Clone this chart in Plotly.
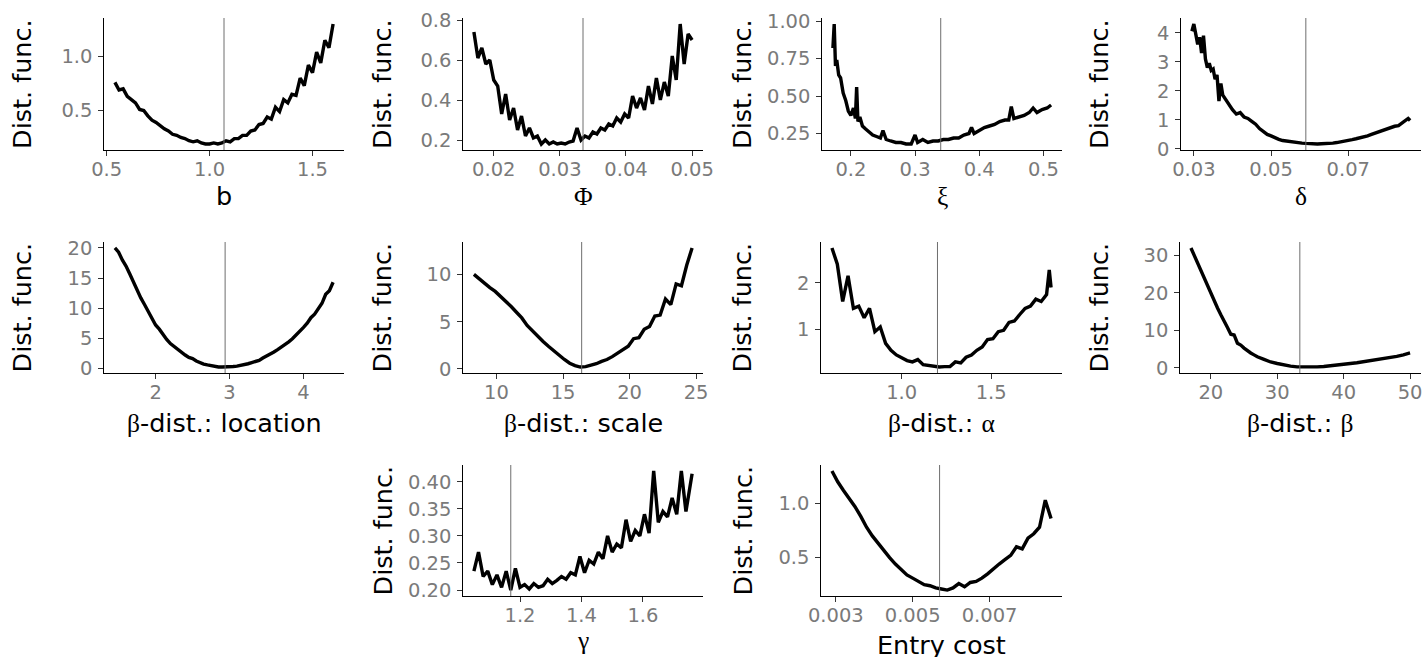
import plotly.graph_objects as go

W, H = 1425, 657

# ---- data (distance function vs. parameter value) ----
b_x = [0.54, 0.56, 0.58, 0.60, 0.62, 0.64, 0.66, 0.68, 0.70, 0.72, 0.74, 0.76, 0.78, 0.80,
       0.82, 0.84, 0.86, 0.88, 0.90, 0.92, 0.94, 0.96, 0.98, 1.00, 1.02, 1.04, 1.06, 1.08,
       1.10, 1.12, 1.14, 1.16, 1.18, 1.20, 1.22, 1.24, 1.26, 1.28, 1.30, 1.32, 1.34, 1.36,
       1.38, 1.40, 1.42, 1.44, 1.46, 1.48, 1.50, 1.52, 1.54, 1.56, 1.58, 1.60]
b_y = [0.76, 0.69, 0.70, 0.63, 0.60, 0.57, 0.51, 0.50, 0.45, 0.41,
       0.39, 0.36, 0.33, 0.31, 0.28, 0.27, 0.25, 0.24, 0.22, 0.21,
       0.22, 0.20, 0.19, 0.19, 0.20, 0.19, 0.20, 0.22, 0.21, 0.24,
       0.24, 0.27, 0.27, 0.31, 0.32, 0.37, 0.38, 0.44, 0.42, 0.53,
       0.49, 0.60, 0.57, 0.65, 0.64, 0.80, 0.73, 0.92, 0.85, 1.04,
       0.94, 1.15, 1.08, 1.30]
b_opt = 1.07

phi_x = [0.0170, 0.0176, 0.0182, 0.0188, 0.0194, 0.0200, 0.0206, 0.0212, 0.0218, 0.0224,
         0.0230, 0.0236, 0.0242, 0.0248, 0.0254, 0.0260, 0.0266, 0.0272, 0.0278, 0.0284,
         0.0290, 0.0296, 0.0302, 0.0308, 0.0314, 0.0320, 0.0326, 0.0332, 0.0338, 0.0344,
         0.0350, 0.0356, 0.0362, 0.0368, 0.0374, 0.0380, 0.0386, 0.0392, 0.0398, 0.0404,
         0.0410, 0.0416, 0.0422, 0.0428, 0.0434, 0.0440, 0.0446, 0.0452, 0.0458, 0.0464,
         0.0470, 0.0476, 0.0482, 0.0488, 0.0494, 0.0500]
phi_y = [0.74, 0.61, 0.66, 0.58, 0.60, 0.50, 0.47, 0.33, 0.43, 0.30,
         0.36, 0.25, 0.32, 0.22, 0.26, 0.21, 0.22, 0.18, 0.20, 0.18,
         0.19, 0.18, 0.185, 0.18, 0.19, 0.195, 0.26, 0.20, 0.22, 0.21,
         0.24, 0.23, 0.26, 0.25, 0.28, 0.27, 0.31, 0.29, 0.33, 0.31,
         0.42, 0.36, 0.41, 0.35, 0.47, 0.38, 0.51, 0.40, 0.49, 0.42,
         0.62, 0.50, 0.78, 0.58, 0.73, 0.70]
phi_opt = 0.0335

xi_x = [0.172, 0.174, 0.176, 0.178, 0.181, 0.184, 0.188, 0.192, 0.196, 0.200,
        0.204, 0.207, 0.209, 0.211, 0.214, 0.218, 0.223, 0.228, 0.234, 0.240,
        0.246, 0.250, 0.255, 0.262, 0.270, 0.278, 0.286, 0.294, 0.300, 0.304,
        0.312, 0.320, 0.328, 0.336, 0.344, 0.352, 0.360, 0.368, 0.376, 0.384,
        0.388, 0.392, 0.400, 0.408, 0.416, 0.424, 0.432, 0.440, 0.446, 0.450,
        0.454, 0.462, 0.470, 0.478, 0.484, 0.490, 0.498, 0.506, 0.512]
xi_y = [0.82, 0.98, 0.70, 0.74, 0.64, 0.62, 0.52, 0.47, 0.40, 0.37,
        0.42, 0.35, 0.56, 0.33, 0.36, 0.30, 0.28, 0.26, 0.24, 0.23,
        0.22, 0.27, 0.21, 0.20, 0.19, 0.19, 0.18, 0.18, 0.24, 0.19,
        0.21, 0.19, 0.20, 0.20, 0.21, 0.21, 0.22, 0.22, 0.24, 0.25,
        0.29, 0.25, 0.27, 0.29, 0.30, 0.31, 0.33, 0.34, 0.34, 0.43,
        0.35, 0.36, 0.37, 0.39, 0.42, 0.39, 0.41, 0.42, 0.44]
xi_opt = 0.34

delta_x = [0.0295, 0.0300, 0.0305, 0.0310, 0.0315, 0.0320, 0.0325, 0.0330, 0.0335, 0.0340,
           0.0345, 0.0350, 0.0355, 0.0360, 0.0365, 0.0370, 0.0375, 0.0380,
           0.039, 0.040, 0.041, 0.042, 0.043, 0.044, 0.045, 0.046, 0.047, 0.048,
           0.049, 0.050, 0.051, 0.052, 0.053, 0.054, 0.055, 0.056, 0.057, 0.058,
           0.059, 0.060, 0.061, 0.062, 0.063, 0.064, 0.065, 0.066, 0.067, 0.068,
           0.069, 0.070, 0.071, 0.072, 0.073, 0.074, 0.075, 0.076, 0.077, 0.078,
           0.079, 0.080, 0.081, 0.082, 0.083, 0.084, 0.085, 0.0855, 0.0860]
delta_y = [4.05, 4.30, 3.95, 3.60, 3.85, 3.30, 3.90, 3.10, 2.80, 2.95,
           2.70, 2.75, 2.40, 2.55, 1.65, 2.25, 1.85, 1.75,
           1.50, 1.35, 1.20, 1.25, 1.10, 1.05, 0.95, 0.85, 0.70, 0.60,
           0.50, 0.45, 0.38, 0.33, 0.29, 0.27, 0.24, 0.22, 0.21, 0.20,
           0.19, 0.18, 0.18, 0.17, 0.18, 0.18, 0.19, 0.20, 0.22, 0.24,
           0.26, 0.30, 0.32, 0.35, 0.38, 0.42, 0.45, 0.50, 0.55, 0.60,
           0.65, 0.70, 0.74, 0.78, 0.80, 0.90, 0.98, 1.05, 0.98]
delta_opt = 0.059

loc_x = [1.45, 1.50, 1.55, 1.60, 1.65, 1.70, 1.75, 1.80, 1.85, 1.90,
         1.95, 2.00, 2.05, 2.10, 2.15, 2.20, 2.25, 2.30, 2.35, 2.40,
         2.45, 2.50, 2.55, 2.60, 2.65, 2.70, 2.75, 2.80, 2.85, 2.90,
         2.95, 3.00, 3.05, 3.10, 3.15, 3.20, 3.25, 3.30, 3.35, 3.40,
         3.45, 3.50, 3.55, 3.60, 3.65, 3.70, 3.75, 3.80, 3.85, 3.90,
         3.95, 4.00, 4.05, 4.10, 4.15, 4.20, 4.25, 4.30, 4.35, 4.40]
loc_y = [20.0, 19.3, 18.0, 17.0, 15.7, 14.4, 12.8, 11.7, 10.6, 9.4,
         8.2, 7.2, 6.5, 5.6, 4.8, 4.1, 3.6, 3.1, 2.6, 2.2,
         1.8, 1.6, 1.2, 0.9, 0.7, 0.55, 0.4, 0.3, 0.22, 0.2,
         0.2, 0.22, 0.28, 0.35, 0.45, 0.6, 0.75, 0.95, 1.15, 1.3,
         1.7, 2.0, 2.35, 2.7, 3.1, 3.5, 3.9, 4.4, 4.9, 5.5,
         6.1, 6.8, 7.5, 8.4, 9.0, 9.9, 10.8, 12.3, 12.9, 14.3]
loc_opt = 2.94

scale_x = [8.3, 8.7, 9.1, 9.5, 9.9, 10.3, 10.7, 11.1, 11.5, 11.9,
           12.3, 12.7, 13.1, 13.5, 13.9, 14.3, 14.7, 15.1, 15.5, 15.9,
           16.3, 16.7, 17.1, 17.5, 17.9, 18.3, 18.7, 19.1, 19.5, 19.9,
           20.3, 20.7, 21.1, 21.5, 21.9, 22.3, 22.7, 23.1, 23.5, 23.9,
           24.3, 24.7]
scale_y = [10.0, 9.5, 9.1, 8.6, 8.2, 7.7, 7.1, 6.6, 6.0, 5.4,
           4.6, 4.0, 3.5, 2.9, 2.4, 1.9, 1.4, 1.0, 0.6, 0.35,
           0.2, 0.25, 0.4, 0.55, 0.8, 1.0, 1.3, 1.7, 2.0, 2.4,
           3.2, 3.3, 4.2, 4.5, 5.6, 5.7, 7.4, 6.8, 9.0, 8.8,
           11.0, 12.8]
scale_opt = 16.4

alpha_x = [0.61, 0.64, 0.67, 0.70, 0.73, 0.76, 0.79, 0.82, 0.85, 0.88,
           0.91, 0.94, 0.97, 1.00, 1.03, 1.06, 1.09, 1.12, 1.15, 1.18,
           1.21, 1.24, 1.27, 1.30, 1.33, 1.36, 1.39, 1.42, 1.45, 1.48,
           1.51, 1.54, 1.57, 1.60, 1.63, 1.66, 1.69, 1.72, 1.75, 1.78,
           1.81, 1.825, 1.835]
alpha_y = [2.75, 2.40, 1.60, 2.15, 1.45, 1.50, 1.25, 1.45, 0.95, 1.05,
           0.70, 0.55, 0.45, 0.38, 0.33, 0.30, 0.35, 0.24, 0.22, 0.20,
           0.19, 0.20, 0.20, 0.30, 0.28, 0.40, 0.45, 0.55, 0.62, 0.78,
           0.80, 0.95, 0.98, 1.15, 1.18, 1.32, 1.45, 1.50, 1.65, 1.60,
           1.75, 2.28, 1.90]
alpha_opt = 1.20

beta_x = [17, 17.5, 18, 18.5, 19, 19.5, 20, 20.5, 21, 21.5,
          22, 22.5, 23, 23.5, 24, 24.5, 25, 25.5, 26, 26.5, 27,
          28, 29, 30, 31, 32, 33, 34, 35, 36, 37,
          38, 39, 40, 41, 42, 43, 44, 45, 46, 47,
          48, 49, 50]
beta_y = [32.0, 30.0, 28.0, 26.0, 23.5, 21.5, 19.5, 17.5, 16.0, 14.2,
          12.7, 10.8, 9.0, 8.8, 6.6, 6.1, 5.3, 4.6, 4.0, 3.5, 3.0,
          2.3, 1.6, 1.2, 0.8, 0.5, 0.3, 0.25, 0.25, 0.3, 0.4,
          0.55, 0.75, 0.95, 1.2, 1.4, 1.65, 1.9, 2.15, 2.45, 2.8,
          3.1, 3.5, 4.0]
beta_opt = 33.4

gamma_x = [1.050, 1.065, 1.080, 1.095, 1.110, 1.125, 1.140, 1.155, 1.170, 1.185,
           1.200, 1.215, 1.230, 1.245, 1.260, 1.275, 1.290, 1.305, 1.320, 1.335,
           1.350, 1.365, 1.380, 1.395, 1.410, 1.425, 1.440, 1.455, 1.470, 1.485,
           1.500, 1.515, 1.530, 1.545, 1.560, 1.575, 1.590, 1.605, 1.620, 1.635,
           1.650, 1.665, 1.680, 1.695, 1.710, 1.725, 1.740, 1.755, 1.760]
gamma_y = [0.235, 0.270, 0.225, 0.235, 0.210, 0.228, 0.205, 0.235, 0.200, 0.240,
           0.205, 0.210, 0.202, 0.212, 0.205, 0.208, 0.220, 0.212, 0.218, 0.225,
           0.220, 0.232, 0.228, 0.262, 0.232, 0.255, 0.248, 0.270, 0.258, 0.300,
           0.270, 0.285, 0.278, 0.330, 0.290, 0.310, 0.300, 0.340, 0.305, 0.420,
           0.325, 0.345, 0.335, 0.370, 0.340, 0.420, 0.345, 0.405, 0.415]
gamma_opt = 1.17

entry_x = [0.00290, 0.00305, 0.00320, 0.00335, 0.00350, 0.00365, 0.00380, 0.00395,
           0.00410, 0.00425, 0.00440, 0.00455, 0.00470, 0.00485, 0.00500, 0.00515,
           0.00530, 0.00545, 0.00560, 0.00575, 0.00590, 0.00605, 0.00620, 0.00635,
           0.00650, 0.00665, 0.00680, 0.00695, 0.00710, 0.00725, 0.00740, 0.00755,
           0.00770, 0.00785, 0.00800, 0.00815, 0.00830, 0.00845, 0.00860]
entry_y = [1.30, 1.20, 1.12, 1.05, 0.97, 0.88, 0.78, 0.70, 0.63, 0.57,
           0.50, 0.44, 0.39, 0.34, 0.31, 0.28, 0.25, 0.24, 0.22, 0.21,
           0.20, 0.22, 0.26, 0.23, 0.27, 0.28, 0.31, 0.35, 0.40, 0.44,
           0.48, 0.52, 0.60, 0.58, 0.68, 0.72, 0.78, 1.03, 0.86]
entry_opt = 0.0057

# tick labels
b_xt, b_yt = ["0.5", "1.0", "1.5"], ["0.5", "1.0"]
phi_xt, phi_yt = ["0.02", "0.03", "0.04", "0.05"], ["0.2", "0.4", "0.6", "0.8"]
xi_xt, xi_yt = ["0.2", "0.3", "0.4", "0.5"], ["0.25", "0.50", "0.75", "1.00"]
delta_xt, delta_yt = ["0.03", "0.05", "0.07"], ["0", "1", "2", "3", "4"]
loc_xt, loc_yt = ["2", "3", "4"], ["0", "5", "10", "15", "20"]
scale_xt, scale_yt = ["10", "15", "20", "25"], ["0", "5", "10"]
alpha_xt, alpha_yt = ["1.0", "1.5"], ["1", "2"]
beta_xt, beta_yt = ["20", "30", "40", "50"], ["0", "10", "20", "30"]
gamma_xt, gamma_yt = ["1.2", "1.4", "1.6"], ["0.20", "0.25", "0.30", "0.35", "0.40"]
entry_xt, entry_yt = ["0.003", "0.005", "0.007"], ["0.5", "1.0"]


def g(s):
    # greek letters drawn in a serif face, like the R symbol font
    return f'<span style="font-family:Liberation Serif">{s}</span>'


x_titles = ["b", g("Φ"), g("ξ"), g("δ"),
            g("β") + "-dist.: location", g("β") + "-dist.: scale",
            g("β") + "-dist.: " + g("α"), g("β") + "-dist.: " + g("β"),
            g("γ"), "Entry cost"]

# panel boxes in pixels: left, right, top, bottom ; x of the y-title ; gap to x-title
panels = [
    (b_x, b_y, b_opt, b_xt, b_yt, (104, 344, 18, 150), 22, 46),
    (phi_x, phi_y, phi_opt, phi_xt, phi_yt, (463, 703, 18, 150), 382, 46),
    (xi_x, xi_y, xi_opt, xi_xt, xi_yt, (822, 1062, 18, 150), 742, 46),
    (delta_x, delta_y, delta_opt, delta_xt, delta_yt, (1181, 1421, 18, 150), 1099, 46),
    (loc_x, loc_y, loc_opt, loc_xt, loc_yt, (104, 344, 242, 373), 22, 50),
    (scale_x, scale_y, scale_opt, scale_xt, scale_yt, (463, 703, 242, 373), 382, 50),
    (alpha_x, alpha_y, alpha_opt, alpha_xt, alpha_yt, (821, 1062, 242, 373), 742, 50),
    (beta_x, beta_y, beta_opt, beta_xt, beta_yt, (1180, 1421, 242, 373), 1099, 50),
    (gamma_x, gamma_y, gamma_opt, gamma_xt, gamma_yt, (463, 703, 465, 596), 382, 44),
    (entry_x, entry_y, entry_opt, entry_xt, entry_yt, (821, 1062, 465, 596), 742, 49),
]

FONT = "DejaVu Sans"
TICKFONT = dict(family=FONT, size=19.5, color="#7a7a7a")
TITLEFONT = dict(family=FONT, size=25.5, color="black")


def px(v):
    return v / W


def py(v):
    return 1 - v / H


fig = go.Figure()
annotations = []
shapes = []
axes = {}

for i, (xs, ys, opt, xt, yt, (l, r, t, b), ytx, gap) in enumerate(panels):
    assert len(xs) == len(ys)
    n = "" if i == 0 else str(i + 1)
    fig.add_trace(go.Scatter(x=xs, y=ys, mode="lines", xaxis="x" + n, yaxis="y" + n,
                             line=dict(color="black", width=3.4), showlegend=False))

    xr = [min(xs), max(xs)]
    yr = [min(ys), max(ys)]
    dx = (xr[1] - xr[0]) * 0.05
    dy = (yr[1] - yr[0]) * 0.05
    common = dict(showline=True, linecolor="black", linewidth=1.4, ticks="outside",
                  ticklen=4.5, tickwidth=1.2, tickcolor="#333333", showgrid=False,
                  zeroline=False, tickfont=TICKFONT)
    axes["xaxis" + n] = dict(domain=[px(l), px(r)], range=[xr[0] - dx, xr[1] + dx],
                            anchor="y" + n, tickvals=[float(v) for v in xt], ticktext=xt,
                            ticklabelstandoff=-3, **common)
    axes["yaxis" + n] = dict(domain=[py(b), py(t)], range=[yr[0] - dy, yr[1] + dy],
                            anchor="x" + n, tickvals=[float(v) for v in yt], ticktext=yt,
                            ticklabelstandoff=2, **common)

    shapes.append(dict(type="line", xref="x" + n, yref="y" + n + " domain",
                       x0=opt, x1=opt, y0=0, y1=1,
                       line=dict(color="#6e6e6e", width=1)))

    annotations.append(dict(text=x_titles[i], x=px((l + r) / 2), y=py(b + gap),
                            xref="paper", yref="paper", xanchor="center", yanchor="middle",
                            showarrow=False, font=TITLEFONT))
    annotations.append(dict(text="Dist. func.", x=px(ytx), y=py((t + b) / 2),
                            xref="paper", yref="paper", xanchor="center", yanchor="middle",
                            textangle=-90, showarrow=False, font=TITLEFONT))

fig.update_layout(width=W, height=H,
                  margin=dict(l=0, r=0, t=0, b=0, autoexpand=False),
                  paper_bgcolor="white", plot_bgcolor="white",
                  annotations=annotations, shapes=shapes, **axes)

# drop the default body margin so the figure fills the window exactly
fig.write_html("out.html", config={"displayModeBar": False},
               post_script="document.body.style.margin='0';document.body.style.overflow='hidden';")
